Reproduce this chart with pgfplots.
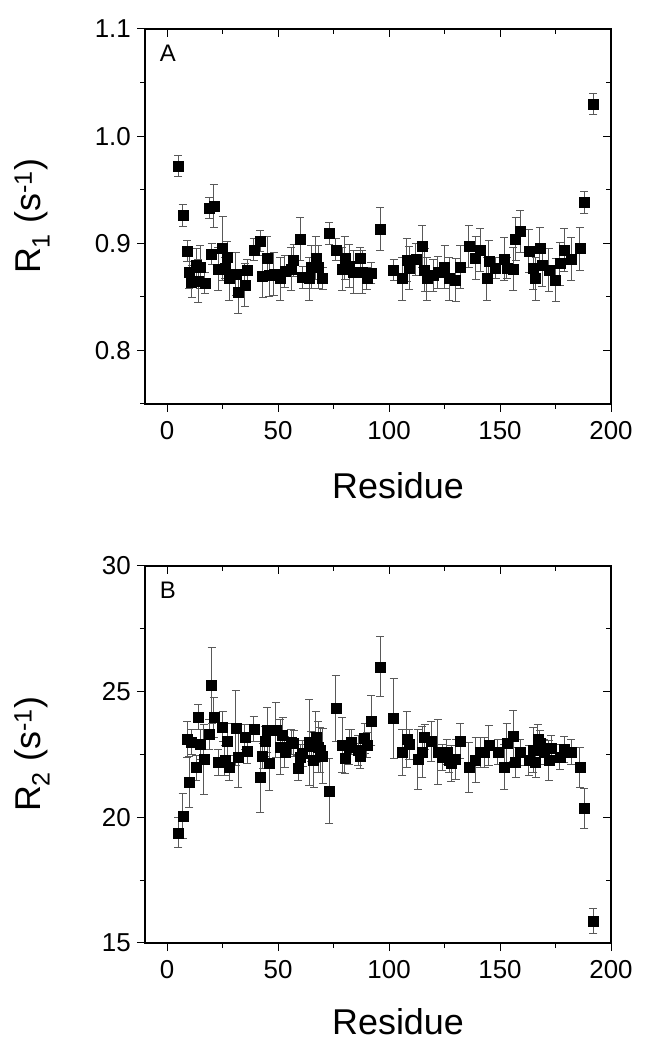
\documentclass[border=0pt]{standalone}
\usepackage{pgfplots}
\pgfplotsset{compat=1.18}
\usepackage{pgfplotstable}
\usepackage{fontspec}
\setmainfont{Liberation Sans}

\pgfplotstableread{
x y ey
5 0.972 0.010
7 0.926 0.010
9 0.893 0.010
10 0.873 0.015
11 0.864 0.015
13 0.880 0.015
14 0.865 0.020
15 0.878 0.020
17 0.863 0.010
19 0.933 0.010
20 0.890 0.010
21 0.935 0.020
23 0.876 0.020
25 0.895 0.030
26 0.877 0.010
27 0.887 0.015
28 0.867 0.020
31 0.871 0.020
32 0.854 0.020
35 0.861 0.020
36 0.875 0.010
39 0.894 0.010
42 0.902 0.010
43 0.869 0.020
45 0.886 0.020
46 0.870 0.020
48 0.871 0.020
51 0.867 0.020
53 0.874 0.015
56 0.876 0.020
57 0.884 0.015
60 0.904 0.020
61 0.868 0.010
64 0.867 0.020
65 0.878 0.020
67 0.886 0.020
68 0.878 0.020
70 0.867 0.010
73 0.909 0.010
76 0.894 0.010
79 0.876 0.020
80 0.886 0.020
82 0.879 0.020
84 0.873 0.020
87 0.886 0.010
88 0.873 0.020
90 0.867 0.010
92 0.872 0.010
96 0.913 0.020
102 0.875 0.010
106 0.867 0.020
108 0.884 0.020
109 0.877 0.020
112 0.885 0.015
115 0.897 0.020
116 0.875 0.020
117 0.867 0.020
120 0.870 0.015
122 0.873 0.015
125 0.878 0.020
127 0.867 0.020
130 0.866 0.020
132 0.878 0.020
136 0.897 0.020
139 0.886 0.020
141 0.894 0.020
144 0.867 0.020
145 0.883 0.020
148 0.877 0.010
152 0.885 0.020
153 0.877 0.010
156 0.876 0.020
157 0.904 0.020
159 0.911 0.020
163 0.893 0.020
165 0.877 0.020
166 0.867 0.020
168 0.895 0.020
169 0.880 0.020
172 0.875 0.020
175 0.866 0.020
177 0.881 0.020
179 0.894 0.020
182 0.885 0.020
186 0.895 0.020
188 0.938 0.010
192 1.030 0.010
}\dataA

\pgfplotstableread{
x y ey
5 19.38 0.6
7 20.04 0.9
9 23.10 0.7
10 21.41 1.0
11 23.00 0.5
13 21.98 0.5
14 24.00 0.5
15 22.90 0.6
16.5 22.30 1.4
19 23.30 0.6
20 25.25 1.5
21 23.97 0.8
23 22.18 0.5
25 23.60 0.6
26 22.27 0.6
27 23.03 0.7
28 21.98 0.5
31 23.55 1.5
32 22.38 1.2
35 23.20 0.5
36 22.65 0.5
39 23.50 0.5
42 21.60 1.4
43 22.45 0.5
44 23.03 0.6
45 23.47 0.9
46 22.17 1.1
49 23.47 1.1
51 22.80 1.1
52 23.28 0.7
53 22.60 0.6
56 23.00 0.5
57 22.94 0.5
59 21.97 0.5
60 22.40 0.5
61 22.54 0.5
64 22.98 1.7
65 22.83 0.6
66 22.27 1.1
67 23.20 1.0
68 22.80 1.0
69 22.67 0.9
70 22.45 1.1
73 21.04 1.3
76 24.33 1.3
79 22.87 1.1
80 22.34 0.6
82 22.80 0.7
83 23.00 0.5
86 22.67 0.6
87 22.45 0.5
89 23.14 0.6
90 22.87 0.5
92 23.84 1.0
96 25.99 1.2
102 23.93 1.6
106 22.58 0.9
108 23.10 1.1
109 22.90 0.6
113 22.30 1.2
115 22.60 1.0
116 23.18 0.5
119 23.03 0.8
122 22.60 1.3
124 22.38 0.5
126 22.60 0.5
127 22.27 0.5
128 22.14 0.7
130 22.31 0.8
132 23.03 0.7
136 21.98 1.0
139 22.27 0.9
141 22.58 0.6
143 22.58 0.6
145 22.87 0.8
149 22.60 0.5
152 22.00 0.9
153 22.94 0.8
156 23.24 1.0
157 22.18 0.6
159 22.58 0.5
163 22.27 0.6
165 22.67 0.9
166 22.18 0.6
167 23.10 0.6
168 22.96 0.5
170 22.60 0.5
172 22.27 0.8
173 22.74 0.5
177 22.40 0.5
179 22.70 0.5
182 22.60 0.5
186 21.98 0.8
188 20.35 0.8
192 15.88 0.5
}\dataB

\pgfplotsset{
  base/.style={
    scale only axis, anchor=south west, width=466bp,
    xmin=-10, xmax=200,
    xtick={0,50,100,150,200}, minor xtick={25,75,125,175},
    axis line style={line width=1.2bp},
    major tick length=8bp, minor tick length=5bp,
    every tick/.style={black, line width=1bp},
    /pgf/number format/assume math mode=true,
    ticklabel style={font=\fontsize{26}{30}\selectfont},
    label style={font=\fontsize{36}{42}\selectfont},
  },
  outer/.style={base, xtick pos=left, ytick pos=left, tick align=outside,
    xticklabel style={inner sep=9bp}, yticklabel style={inner sep=6bp},
    xlabel={Residue},
    xlabel style={at={(axis description cs:0.543,#1)}, anchor=base},
    ylabel style={at={(axis description cs:-0.2425,0.5)}, anchor=center},
  },
  mirror/.style={base, xtick pos=right, ytick pos=right, tick align=inside,
    xticklabels={}, yticklabels={}},
  pts/.style={only marks, mark=square*, mark size=5bp,
    mark options={black, fill=black},
    error bars/.cd, y dir=both, y explicit,
    error bar style={black!65, line width=1bp},
    error mark=-,
    error mark options={black!65, line width=1bp, mark size=4bp, rotate=90}},
}

\begin{document}
\begin{tikzpicture}
\useasboundingbox (0bp,0bp) rectangle (645bp,1049bp);
% Panel A
\begin{axis}[outer=-0.2533, at={(145bp,645bp)}, height=375bp,
  ymin=0.75, ymax=1.1, ytick={0.8,0.9,1.0,1.1}, yticklabels={0.8,0.9,1.0,1.1},
  minor ytick={0.75,0.85,0.95,1.05},
  ylabel={R\textsubscript{1} (s\textsuperscript{-1})}]
\addplot[pts] table[x=x, y=y, y error=ey] {\dataA};
\node[font=\fontsize{24}{28}\selectfont] at (axis description cs:0.049,0.936) {A};
\end{axis}
\begin{axis}[mirror, at={(145bp,645bp)}, height=375bp,
  ymin=0.75, ymax=1.1, ytick={0.8,0.9,1.0,1.1}, minor ytick={0.75,0.85,0.95,1.05}]
\end{axis}
% Panel B
\begin{axis}[outer=-0.244, at={(145bp,106bp)}, height=377bp,
  ymin=15, ymax=30, ytick={15,20,25,30}, yticklabels={15,20,25,30},
  minor ytick={17.5,22.5,27.5},
  ylabel={R\textsubscript{2} (s\textsuperscript{-1})}]
\addplot[pts] table[x=x, y=y, y error=ey] {\dataB};
\node[font=\fontsize{24}{28}\selectfont] at (axis description cs:0.049,0.936) {B};
\end{axis}
\begin{axis}[mirror, at={(145bp,106bp)}, height=377bp,
  ymin=15, ymax=30, ytick={15,20,25,30}, minor ytick={17.5,22.5,27.5}]
\end{axis}
\end{tikzpicture}
\end{document}
